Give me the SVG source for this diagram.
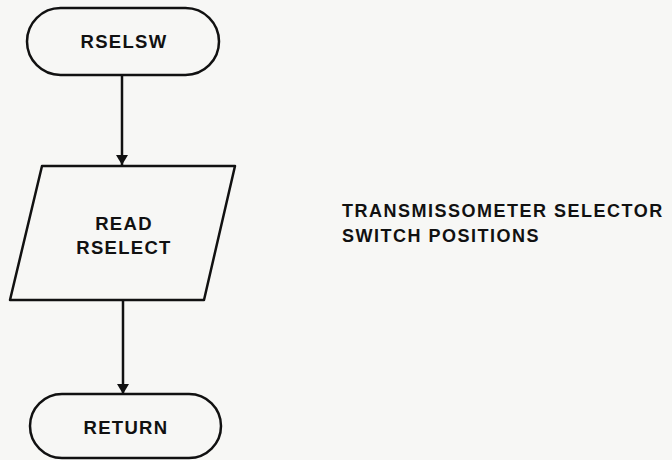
<svg xmlns="http://www.w3.org/2000/svg" width="672" height="460" viewBox="0 0 672 460">
<style>
.shape{fill:none;stroke:#111;stroke-width:2.5;stroke-linejoin:round}
.lbl{font-family:"Liberation Sans",Arial,sans-serif;font-weight:bold;font-size:18.5px;letter-spacing:1.3px;fill:#111;text-anchor:middle}
.note{font-family:"Liberation Sans",Arial,sans-serif;font-weight:bold;font-size:18px;letter-spacing:1.5px;fill:#111}
.conn{stroke:#111;stroke-width:2.5;fill:none}
</style>
<defs>
<marker id="ah" markerWidth="10" markerHeight="12" refX="10" refY="6" orient="auto" markerUnits="userSpaceOnUse">
<path d="M0,0 L10,6 L0,12 Z" fill="#111"/>
</marker>
</defs>
<rect width="672" height="460" fill="#f7f7f5"/>
<g id="start">
<rect class="shape" x="27" y="8" width="192" height="67" rx="33.5" ry="33.5"/>
<text class="lbl" x="124" y="48">RSELSW</text>
</g>
<g id="read">
<polygon class="shape" points="42,166 235,166 204,300 10,300"/>
<text class="lbl" x="124" y="230">READ</text>
<text class="lbl" x="124" y="254">RSELECT</text>
</g>
<g id="return">
<rect class="shape" x="30" y="394" width="191" height="64" rx="32" ry="32"/>
<text class="lbl" x="126" y="434">RETURN</text>
</g>
<g id="note">
<text class="note" x="342" y="217">TRANSMISSOMETER SELECTOR</text>
<text class="note" x="342" y="242">SWITCH POSITIONS</text>
</g>
<g id="connectors">
<line class="conn" x1="122" y1="75" x2="122" y2="165" marker-end="url(#ah)"/>
<line class="conn" x1="123" y1="300" x2="123" y2="394" marker-end="url(#ah)"/>
</g>
</svg>
